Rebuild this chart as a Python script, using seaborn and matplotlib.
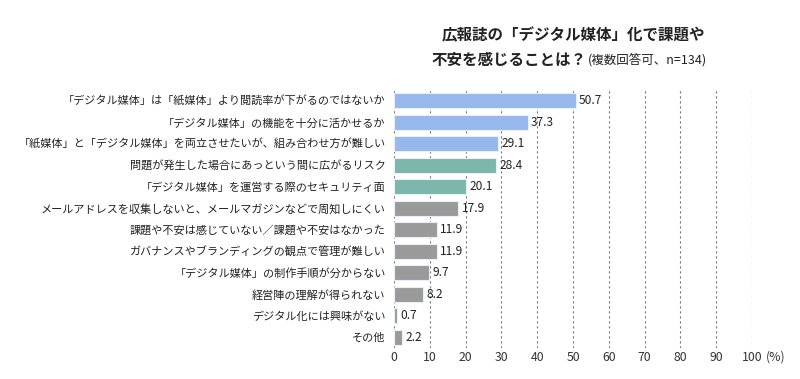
import numpy as np
import pandas as pd
import matplotlib
matplotlib.use("Agg")
import matplotlib.pyplot as plt
import seaborn as sns

# data
labels = [
    "「デジタル媒体」は「紙媒体」より閲読率が下がるのではないか",
    "「デジタル媒体」の機能を十分に活かせるか",
    "「紙媒体」と「デジタル媒体」を両立させたいが、組み合わせ方が難しい",
    "問題が発生した場合にあっという間に広がるリスク",
    "「デジタル媒体」を運営する際のセキュリティ面",
    "メールアドレスを収集しないと、メールマガジンなどで周知しにくい",
    "課題や不安は感じていない／課題や不安はなかった",
    "ガバナンスやブランディングの観点で管理が難しい",
    "「デジタル媒体」の制作手順が分からない",
    "経営陣の理解が得られない",
    "デジタル化には興味がない",
    "その他",
]
values = [50.7, 37.3, 29.1, 28.4, 20.1, 17.9, 11.9, 11.9, 9.7, 8.2, 0.7, 2.2]
groups = ["blue"] * 3 + ["teal"] * 2 + ["gray"] * 7
palette = {"blue": "#8ab4f8", "teal": "#74bfb0", "gray": "#9a9a9a"}
xticks = [0, 10, 20, 30, 40, 50, 60, 70, 80, 90, 100]

df = pd.DataFrame({"label": labels, "value": values, "group": groups})

sns.set_theme(style="white")
plt.rcParams["font.family"] = ["Noto Sans CJK JP", "DejaVu Sans"]

fig = plt.figure(figsize=(8, 3.79), dpi=100)
ax = fig.add_axes([394 / 800, 1 - 348 / 379, 358 / 800, 258 / 379])

sns.barplot(data=df, x="value", y="label", hue="group", palette=palette,
            dodge=False, width=0.7, legend=False, ax=ax,
            edgecolor="#e8eefc", linewidth=0.8)

ax.set_xlim(0, 100)
ax.set_xticks(xticks)
ax.set_xlabel("")
ax.set_ylabel("")
for s in ax.spines.values():
    s.set_visible(False)

for x in xticks:
    ax.axvline(x, color="#777777", linestyle=(0, (2, 2.5)), linewidth=0.8, zorder=0)

ax.tick_params(axis="y", length=0, pad=6, labelsize=8, labelcolor="#222222")
ax.tick_params(axis="x", length=0, pad=2, labelsize=8.8, labelcolor="#333333")

for i, v in enumerate(values):
    ax.text(v + 1.0, i, f"{v:.1f}", va="center", ha="left", fontsize=8.6, color="#222222")

ax.text(106.5, -0.036, "(%)", transform=ax.get_xaxis_transform(), ha="center", va="center",
        fontsize=8.8, color="#333333")

fig.text(573 / 800, 1 - 35 / 379, "広報誌の「デジタル媒体」化で課題や", ha="center", va="center",
         fontsize=11.2, fontweight="bold", color="#222222")
fig.text(586 / 800, 1 - 60 / 379, "不安を感じることは？", ha="right", va="center",
         fontsize=11.2, fontweight="bold", color="#222222")
fig.text(588 / 800, 1 - 60 / 379, "(複数回答可、n=134)", ha="left", va="center",
         fontsize=9, color="#222222")

fig.savefig("out.png", dpi=100)
